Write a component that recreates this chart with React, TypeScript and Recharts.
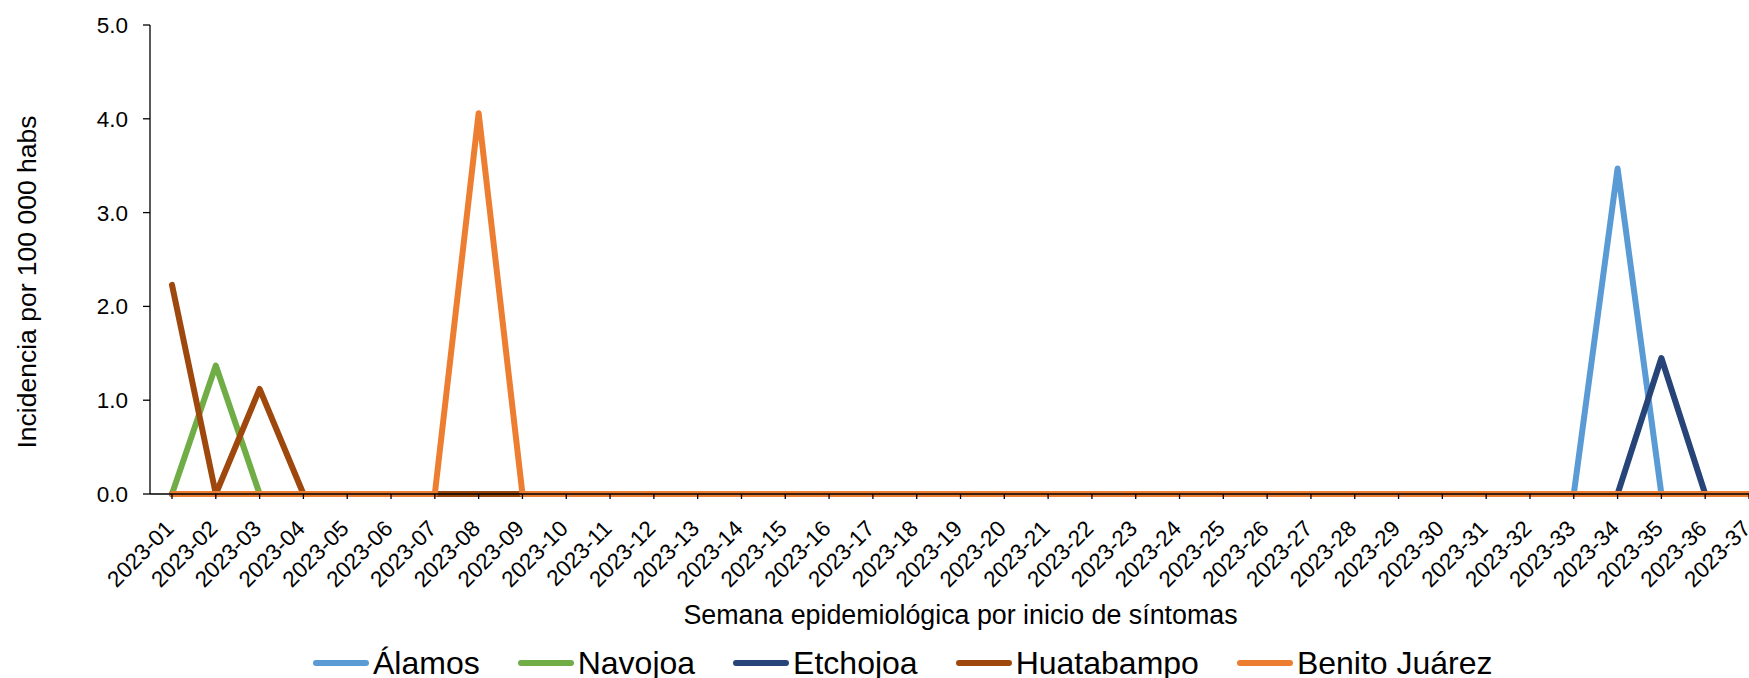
import React from 'react';
import { LineChart, Line, XAxis, YAxis } from 'recharts';

const WEEKS = [
  '2023-01', '2023-02', '2023-03', '2023-04', '2023-05', '2023-06', '2023-07', '2023-08', '2023-09', '2023-10',
  '2023-11', '2023-12', '2023-13', '2023-14', '2023-15', '2023-16', '2023-17', '2023-18', '2023-19', '2023-20',
  '2023-21', '2023-22', '2023-23', '2023-24', '2023-25', '2023-26', '2023-27', '2023-28', '2023-29', '2023-30',
  '2023-31', '2023-32', '2023-33', '2023-34', '2023-35', '2023-36', '2023-37',
];

const ALAMOS = [
  0, 0, 0, 0, 0, 0, 0, 0, 0, 0,
  0, 0, 0, 0, 0, 0, 0, 0, 0, 0,
  0, 0, 0, 0, 0, 0, 0, 0, 0, 0,
  0, 0, 0, 3.47, 0, 0, 0,
];
const NAVOJOA = [
  0, 1.37, 0, 0, 0, 0, 0, 0, 0, 0,
  0, 0, 0, 0, 0, 0, 0, 0, 0, 0,
  0, 0, 0, 0, 0, 0, 0, 0, 0, 0,
  0, 0, 0, 0, 0, 0, 0,
];
const ETCHOJOA = [
  0, 0, 0, 0, 0, 0, 0, 0, 0, 0,
  0, 0, 0, 0, 0, 0, 0, 0, 0, 0,
  0, 0, 0, 0, 0, 0, 0, 0, 0, 0,
  0, 0, 0, 0, 1.45, 0, 0,
];
const HUATABAMPO = [
  2.23, 0, 1.12, 0, 0, 0, 0, 0, 0, 0,
  0, 0, 0, 0, 0, 0, 0, 0, 0, 0,
  0, 0, 0, 0, 0, 0, 0, 0, 0, 0,
  0, 0, 0, 0, 0, 0, 0,
];
const BENITO_JUAREZ = [
  0, 0, 0, 0, 0, 0, 0, 4.06, 0, 0,
  0, 0, 0, 0, 0, 0, 0, 0, 0, 0,
  0, 0, 0, 0, 0, 0, 0, 0, 0, 0,
  0, 0, 0, 0, 0, 0, 0,
];

const SERIES_KEYS = ['alamos', 'navojoa', 'etchojoa', 'huatabampo', 'benito'];
const SERIES_NAMES = ['Álamos', 'Navojoa', 'Etchojoa', 'Huatabampo', 'Benito Juárez'];
const SERIES_VALUES = [ALAMOS, NAVOJOA, ETCHOJOA, HUATABAMPO, BENITO_JUAREZ];
const Y_TICKS = [0, 1, 2, 3, 4, 5];

const X_TITLE = 'Semana epidemiológica por inicio de síntomas';
const Y_TITLE = 'Incidencia por 100 000 habs';

const COLORS: Record<string, string> = {
  alamos: '#5B9BD5',
  navojoa: '#70AD47',
  etchojoa: '#264478',
  huatabampo: '#9E480E',
  benito: '#ED7D31',
};

const data = WEEKS.map((w, i) => {
  const row: Record<string, string | number> = { week: w };
  SERIES_KEYS.forEach((k, s) => {
    row[k] = SERIES_VALUES[s][i];
  });
  return row;
});

const FONT = '"Liberation Sans", Arial, sans-serif';

const XTick = (props: any) => {
  const { x, y, payload } = props;
  const ax = x + 3;
  const ay = y + 29;
  return (
    <text
      x={ax}
      y={ay}
      transform={`rotate(-45, ${ax}, ${ay})`}
      textAnchor="end"
      fontSize={22.5}
      fill="#000"
      fontFamily={FONT}
    >
      {payload.value}
    </text>
  );
};

export default function App() {
  return (
    <div
      style={{
        position: 'absolute',
        left: 0,
        top: 0,
        width: 1749,
        height: 678,
        overflow: 'hidden',
        background: '#fff',
        fontFamily: FONT,
      }}
    >
      <LineChart
        width={1771}
        height={678}
        data={data}
        margin={{ top: 25, right: 0, bottom: 0, left: 0 }}
      >
        <XAxis
          dataKey="week"
          interval={0}
          padding={{ left: 22, right: 22 }}
          height={184}
          tickSize={5}
          tick={(p: any) => <XTick {...p} />}
          axisLine={{ stroke: '#000', strokeWidth: 1.3 }}
          tickLine={{ stroke: '#000', strokeWidth: 1.3 }}
        />
        <YAxis
          width={150}
          domain={[0, 5]}
          ticks={Y_TICKS}
          tickFormatter={(v: number) => v.toFixed(1)}
          tickSize={7}
          tickMargin={15}
          tick={{ fill: '#000', fontSize: 22.5, fontFamily: FONT }}
          axisLine={{ stroke: '#000', strokeWidth: 1.3 }}
          tickLine={{ stroke: '#000', strokeWidth: 1.3 }}
        />
        {SERIES_KEYS.map((k, s) => (
          <Line
            key={k}
            type="linear"
            dataKey={k}
            name={SERIES_NAMES[s]}
            stroke={COLORS[k]}
            strokeWidth={6}
            strokeLinejoin="round"
            strokeLinecap="round"
            dot={false}
            activeDot={false}
            isAnimationActive={false}
          />
        ))}
      </LineChart>

      <div
        style={{
          position: 'absolute',
          left: 150,
          width: 1621,
          top: 600,
          height: 30,
          lineHeight: '30px',
          textAlign: 'center',
          fontSize: 26.8,
          color: '#000',
          whiteSpace: 'nowrap',
        }}
      >
        {X_TITLE}
      </div>

      <div
        style={{
          position: 'absolute',
          left: 27 - 250,
          top: 282 - 15,
          width: 500,
          height: 30,
          lineHeight: '30px',
          textAlign: 'center',
          fontSize: 26.5,
          color: '#000',
          whiteSpace: 'nowrap',
          transform: 'rotate(-90deg)',
          transformOrigin: 'center center',
        }}
      >
        {Y_TITLE}
      </div>

      <div
        style={{
          position: 'absolute',
          left: 313,
          top: 645,
          height: 36,
          display: 'flex',
          alignItems: 'center',
          fontSize: 32,
          color: '#000',
          whiteSpace: 'nowrap',
        }}
      >
        {SERIES_KEYS.map((k, s) => (
          <div
            key={k}
            style={{
              display: 'flex',
              alignItems: 'center',
              marginRight: s < SERIES_KEYS.length - 1 ? 38 : 0,
            }}
          >
            <span
              style={{
                display: 'inline-block',
                width: 56,
                height: 6,
                borderRadius: 3,
                background: COLORS[k],
                marginRight: 4,
              }}
            />
            <span>{SERIES_NAMES[s]}</span>
          </div>
        ))}
      </div>
    </div>
  );
}
